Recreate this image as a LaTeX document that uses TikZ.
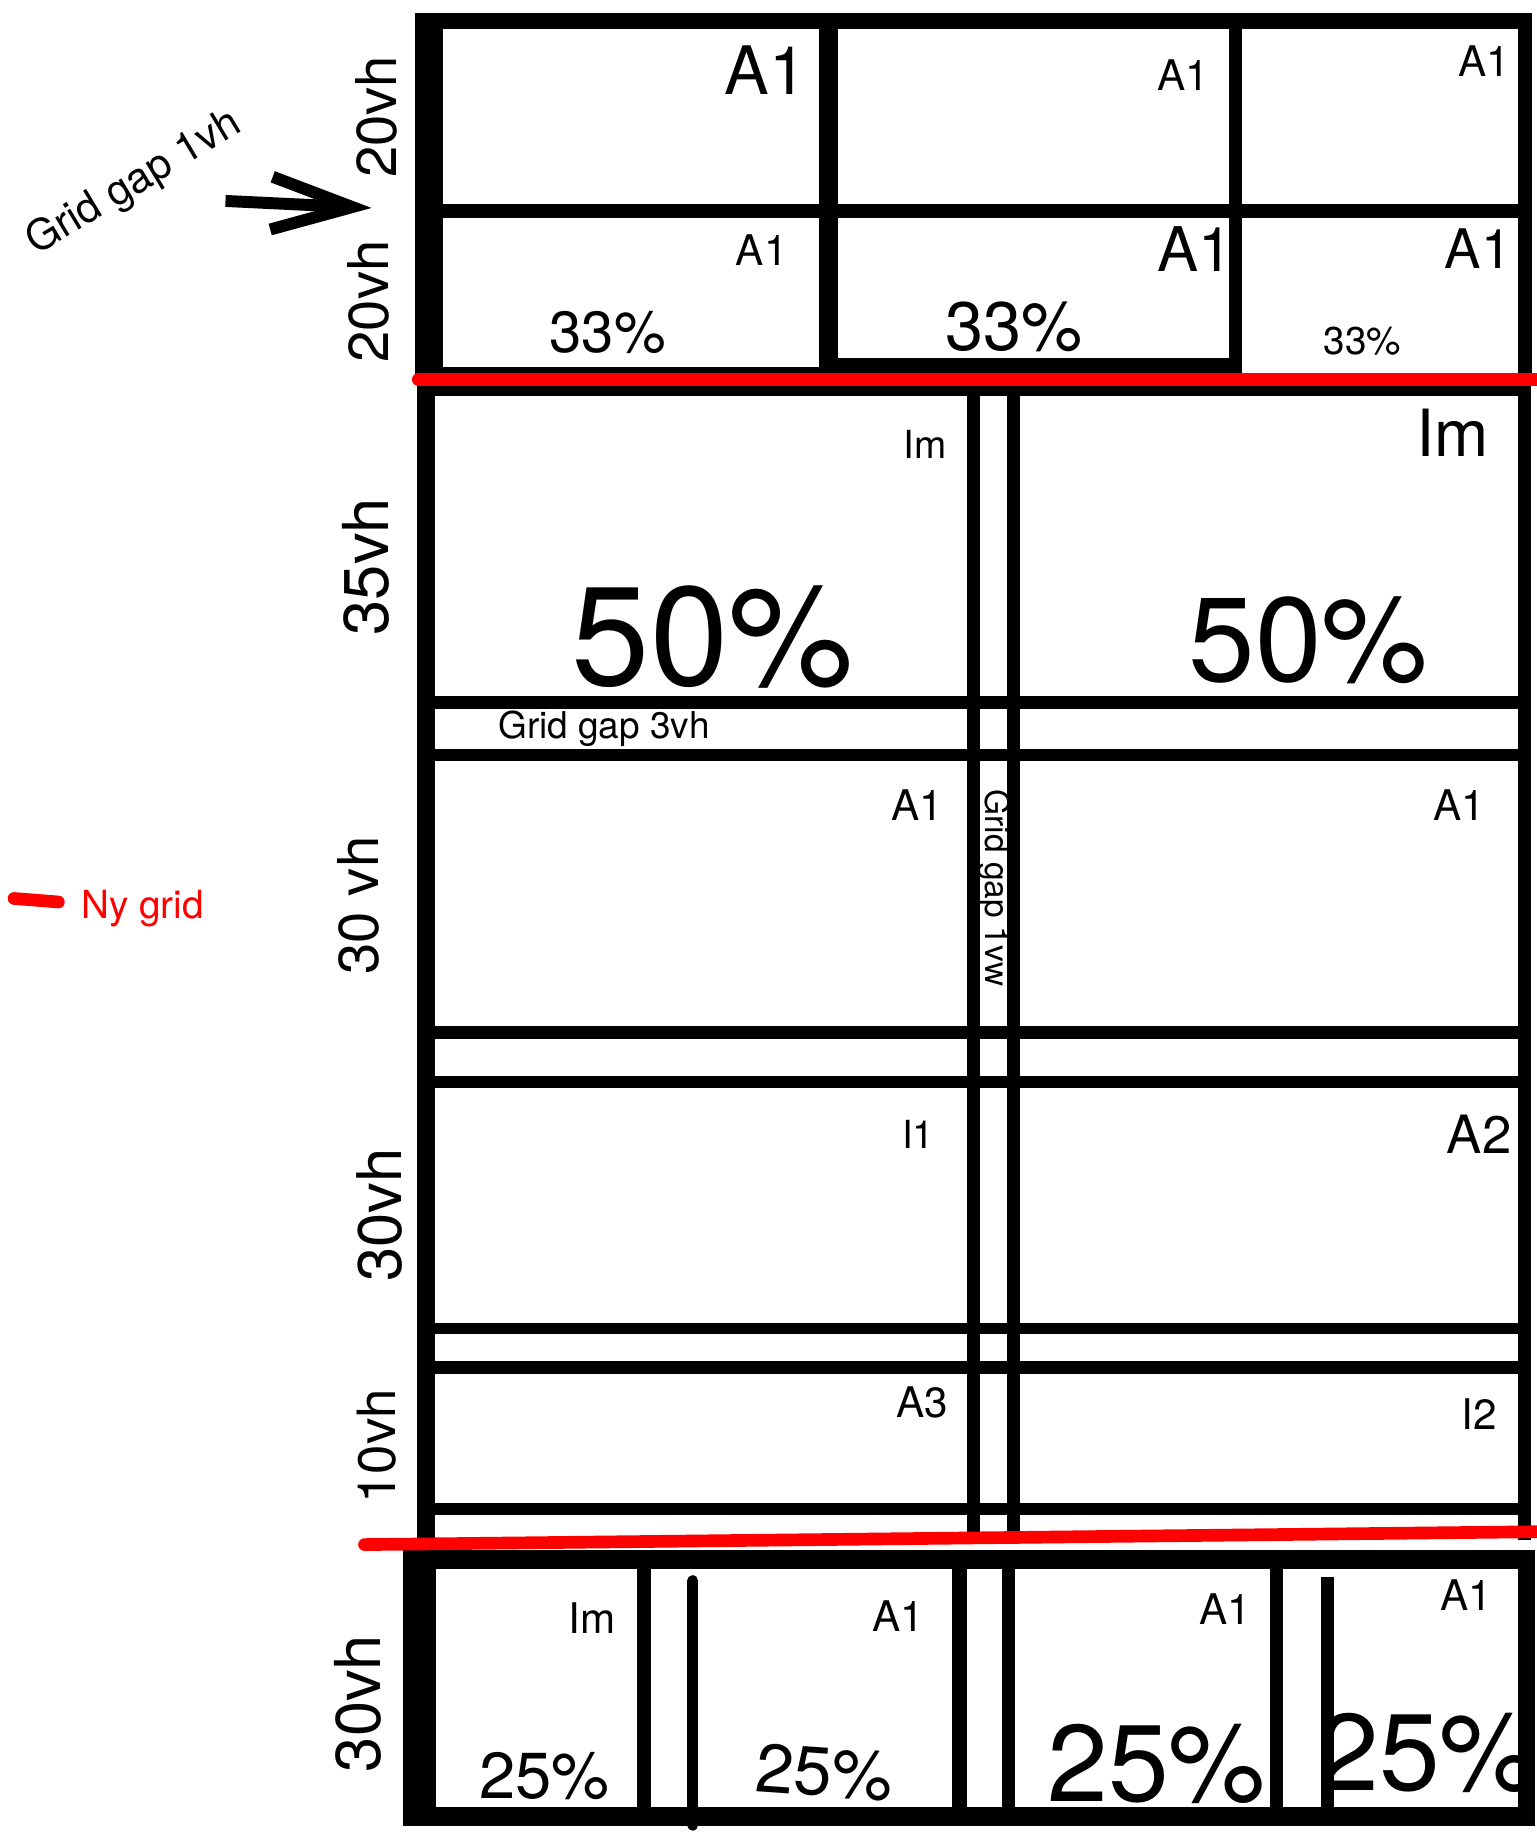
\documentclass[tikz,border=0pt]{standalone}
\usepackage{fontspec}
\setmainfont{TeX Gyre Heros}
\usetikzlibrary{arrows.meta}
\definecolor{nyred}{HTML}{FF0000}
\newcommand{\fsz}[1]{\fontsize{#1}{#1}\selectfont}

\begin{document}
\begin{tikzpicture}[x=0.01168cm, y=-0.01168cm,
  every node/.style={inner sep=0pt, font=\fsz{12}},
  vlabel/.style={rotate=90},
  redline/.style={nyred, line width=3.6pt, line cap=round}]
  \useasboundingbox (0,0) rectangle (1315,1568);

  % texts first, the frames are drawn over them
  \node (tA) at (655,60) {\fsz{19}A1};
  \node (tB) at (1013,64) {A1};
  \node (tC) at (1270,52) {A1};
  \node (tD) at (652,214) {A1};
  \node (tE) at (1023,213) {\fsz{17.5}A1};
  \node (tF) at (1265,213) {\fsz{15.5}A1};
  \node (tPa) at (520,285) {\fsz{16.5}33\%};
  \node (tPb) at (868,280) {\fsz{19.5}33\%};
  \node (tPc) at (1166,292) {\fsz{11}33\%};

  \node (mIa) at (792,380) {\fsz{11}Im};
  \node (mIb) at (1243,370) {\fsz{18.5}Im};
  \node (mPa) at (610,545) {\fsz{40}50\%};
  \node (mPb) at (1120,548) {\fsz{34}50\%};
  \node (mGap) at (517,624) {\fsz{10.5}Grid gap 3vh};
  \node (mA) at (785,689) {A1};
  \node (mB) at (1249,689) {A1};
  \node[rotate=-90] (mCol) at (851,760) {\fsz{9.5}Grid gap 1vw};
  \node (mC) at (786,971) {\fsz{11}I1};
  \node (mD) at (1266,971) {\fsz{15}A2};
  \node (mE) at (789,1200) {A3};
  \node (mF) at (1266,1210) {I2};

  \node (bIm) at (507,1385) {Im};
  \node (bA) at (769,1383) {A1};
  \node (bB) at (1049,1377) {A1};
  \node (bC) at (1255,1365) {A1};
  \node (bPa) at (466,1520) {\fsz{18.5}25\%};
  \node[rotate=-4] (bPb) at (706,1517) {\fsz{19.5}25\%};
  \node (bPc) at (990,1510) {\fsz{31}25\%};
  \node (bPd) at (1222,1500) {\fsz{31}25\%};

  % heights at the side
  \node[vlabel] (h1) at (322,100) {\fsz{16}20vh};
  \node[vlabel] (h2) at (315,258) {\fsz{16}20vh};
  \node[vlabel] (h3) at (313,485) {\fsz{18}35vh};
  \node[vlabel] (h4) at (307,775) {\fsz{16}30 vh};
  \node[vlabel] (h5) at (325,1040) {\fsz{17.5}30vh};
  \node[vlabel] (h6) at (322,1238) {\fsz{15}10vh};
  \node[vlabel] (h7) at (306,1458) {\fsz{18}30vh};

  % top grid, 3 columns
  \foreach \xa/\ya/\xb/\yb in {
    355/11/1311/25,
    355/11/379/325,
    1299/11/1311/320,
    378/175/1300/187,
    701/25/717/322,
    1052/25/1063/322,
    378/314/702/322,
    716/306/1053/322}
  {
    \fill (\xa,\ya) rectangle (\xb,\yb);
  }

  % middle grid, 2 columns
  \foreach \ya/\yb in {329/339, 596/607, 641/651, 878/889,
                       921/931, 1132/1142, 1165/1176, 1286/1297}
  {
    \fill (357,\ya) rectangle (1310,\yb);
  }
  \foreach \xa/\xb in {357/372, 828/839, 862/873, 1299/1310}
  {
    \fill (\xa,329) rectangle (\xb,1318);
  }

  % bottom grid, 4 columns
  \foreach \xa/\ya/\xb/\yb in {
    345/1327/1314/1343,
    345/1547/1314/1563,
    345/1327/373/1563,
    1299/1327/1314/1563,
    545/1343/557/1547,
    815/1343/828/1552,
    858/1343/869/1552,
    1087/1343/1098/1552,
    1131/1350/1142/1552}
  {
    \fill (\xa,\ya) rectangle (\xb,\yb);
  }
  \draw[line width=3.2pt, line cap=round] (593,1353) -- (593,1562);

  % new grid markers
  \draw[redline] (358,325) -- (1315,325);
  \draw[redline] (312,1322) -- (1315,1311);
  \draw[redline] (12,769) -- (50,772);
  \node[text=nyred] (ny) at (122,778) {\fsz{11}Ny grid};

  % grid gap arrow
  \node[rotate=31] (gap) at (115,157) {\fsz{12}Grid gap 1vh};
  \coordinate (gapfrom) at (193,172);
  \coordinate (gapto) at (318,178);
  \draw[line width=3.4pt, -{Straight Barb[length=23pt, width=15pt]}]
    (gapfrom) -- (gapto);
\end{tikzpicture}
\end{document}
